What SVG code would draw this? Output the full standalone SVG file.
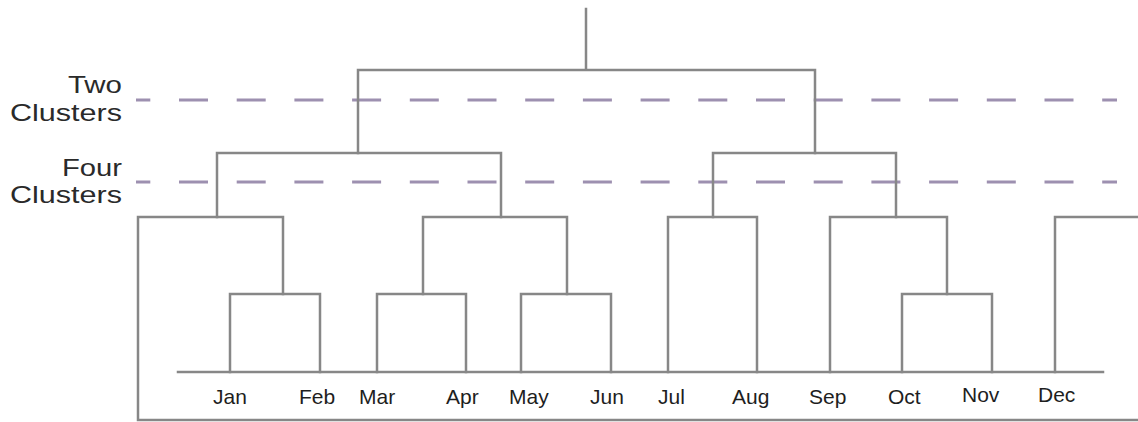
<svg xmlns="http://www.w3.org/2000/svg" width="1138" height="422" viewBox="0 0 1138 422">
  <style>
    .branch { fill: none; stroke: #878787; stroke-width: 2.5; stroke-linecap: square; }
    .cut { fill: none; stroke: #9d90b0; stroke-width: 3; stroke-dasharray: 29 28.7; stroke-dashoffset: 14.7; }
    .lvl { font-family: "Liberation Sans", Arial, sans-serif; font-size: 24px; fill: #2a2a2a; text-anchor: end; }
    .month { font-family: "Liberation Sans", Arial, sans-serif; font-size: 21px; fill: #1e1e1e; }
  </style>
  <rect width="1138" height="422" fill="#fff"/>

  <!-- cut levels -->
  <g id="cut-two">
    <line class="cut" x1="136" y1="100" x2="1117" y2="100"/>
    <text class="lvl" x="122" y="93" textLength="54" lengthAdjust="spacingAndGlyphs">Two</text>
    <text class="lvl" x="122" y="121" textLength="112" lengthAdjust="spacingAndGlyphs">Clusters</text>
  </g>
  <g id="cut-four">
    <line class="cut" x1="136" y1="182" x2="1117" y2="182"/>
    <text class="lvl" x="122" y="176" textLength="60" lengthAdjust="spacingAndGlyphs">Four</text>
    <text class="lvl" x="122" y="203" textLength="112" lengthAdjust="spacingAndGlyphs">Clusters</text>
  </g>

  <!-- dendrogram branches -->
  <g id="connectors">
    <!-- root and top split -->
    <path class="branch" d="M586 9V70M358 153V70H815V153"/>
    <!-- second level -->
    <path class="branch" d="M217 217V153H501V217"/>
    <path class="branch" d="M713 217V153H896V217"/>
    <!-- outer frame bracket -->
    <path class="branch" d="M283 294V217H138V420H1138"/>
    <!-- Jan / Feb -->
    <path class="branch" d="M230 372V294H320V372"/>
    <!-- Mar..Jun -->
    <path class="branch" d="M423 294V217H567V294"/>
    <path class="branch" d="M377 372V294H466V372"/>
    <path class="branch" d="M521 372V294H611V372"/>
    <!-- Jul / Aug -->
    <path class="branch" d="M668 372V217H757V372"/>
    <!-- Sep..Nov -->
    <path class="branch" d="M830 372V217H947V294"/>
    <path class="branch" d="M902 372V294H992V372"/>
    <!-- Dec -->
    <path class="branch" d="M1055 372V217H1138"/>
    <!-- leaf baseline -->
    <path class="branch" d="M178 372H1103"/>
  </g>

  <!-- leaves -->
  <g id="leaf-jan"><text class="month" x="213" y="404">Jan</text></g>
  <g id="leaf-feb"><text class="month" x="299" y="404">Feb</text></g>
  <g id="leaf-mar"><text class="month" x="359" y="404">Mar</text></g>
  <g id="leaf-apr"><text class="month" x="446" y="404">Apr</text></g>
  <g id="leaf-may"><text class="month" x="509" y="404">May</text></g>
  <g id="leaf-jun"><text class="month" x="590" y="404">Jun</text></g>
  <g id="leaf-jul"><text class="month" x="658" y="404">Jul</text></g>
  <g id="leaf-aug"><text class="month" x="732" y="404">Aug</text></g>
  <g id="leaf-sep"><text class="month" x="809" y="404">Sep</text></g>
  <g id="leaf-oct"><text class="month" x="888" y="404">Oct</text></g>
  <g id="leaf-nov"><text class="month" x="962" y="402">Nov</text></g>
  <g id="leaf-dec"><text class="month" x="1038" y="402">Dec</text></g>
</svg>
